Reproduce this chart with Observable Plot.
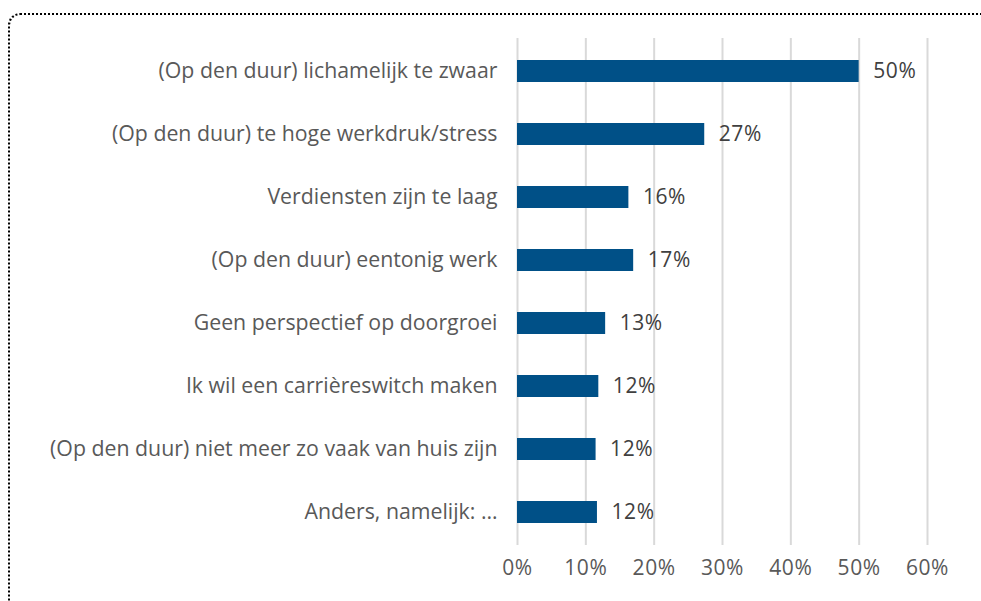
<!DOCTYPE html>
<html>
<head>
<meta charset="utf-8">
<script src="https://cdn.jsdelivr.net/npm/d3@7"></script>
<script src="https://cdn.jsdelivr.net/npm/@observablehq/plot@0.6"></script>
<style>
  html, body { margin: 0; padding: 0; background: #fff; overflow: hidden; width: 981px; height: 601px; }
  #chart { position: absolute; left: 0; top: 0; }
  #frame { position: absolute; left: 8px; top: 13px; width: 1100px; height: 800px;
           border: 2px dotted #000; border-radius: 12px; box-sizing: border-box; pointer-events: none; }
  .pct text { letter-spacing: 0.6px; }
</style>
</head>
<body>
<div id="chart"></div>
<div id="frame"></div>
<script>
const categories = [
  "(Op den duur) lichamelijk te zwaar",
  "(Op den duur) te hoge werkdruk/stress",
  "Verdiensten zijn te laag",
  "(Op den duur) eentonig werk",
  "Geen perspectief op doorgroei",
  "Ik wil een carrièreswitch maken",
  "(Op den duur) niet meer zo vaak van huis zijn",
  "Anders, namelijk: …"
];
const values = [50.0, 27.4, 16.3, 17.0, 12.9, 11.9, 11.5, 11.7];
const valueLabels = ["50%", "27%", "16%", "17%", "13%", "12%", "12%", "12%"];
const xTicks = [0, 10, 20, 30, 40, 50, 60];

const data = categories.map((c, i) => ({category: c, value: values[i], label: valueLabels[i]}));

const chart = Plot.plot({
  width: 981,
  height: 601,
  marginLeft: 517,
  marginRight: 54,
  marginTop: 38,
  marginBottom: 56,
  style: {fontFamily: "'Open Sans', sans-serif", background: "transparent"},
  x: {domain: [0, 60], ticks: xTicks, tickFormat: d => d + "%", label: null},
  y: {domain: categories, label: null, paddingInner: 0.65, paddingOuter: 0.325},
  marks: [
    Plot.gridX(xTicks, {stroke: "#d9d9d9", strokeWidth: 2, strokeOpacity: 1}),
    Plot.axisX({ticks: xTicks, tickFormat: d => d + "%", tickSize: 0, tickPadding: 15, fontSize: 21, fill: "#595959", label: null, className: "pct"}),
    Plot.axisY({tickSize: 0, tickPadding: 20, fontSize: 21.3, fill: "#595959", label: null}),
    Plot.barX(data, {x: "value", y: "category", fill: "#005087"}),
    Plot.text(data, {x: "value", y: "category", text: "label", textAnchor: "start", dx: 14, fontSize: 21, fill: "#404040", className: "pct"})
  ]
});
document.getElementById("chart").appendChild(chart);
</script>
</body>
</html>
